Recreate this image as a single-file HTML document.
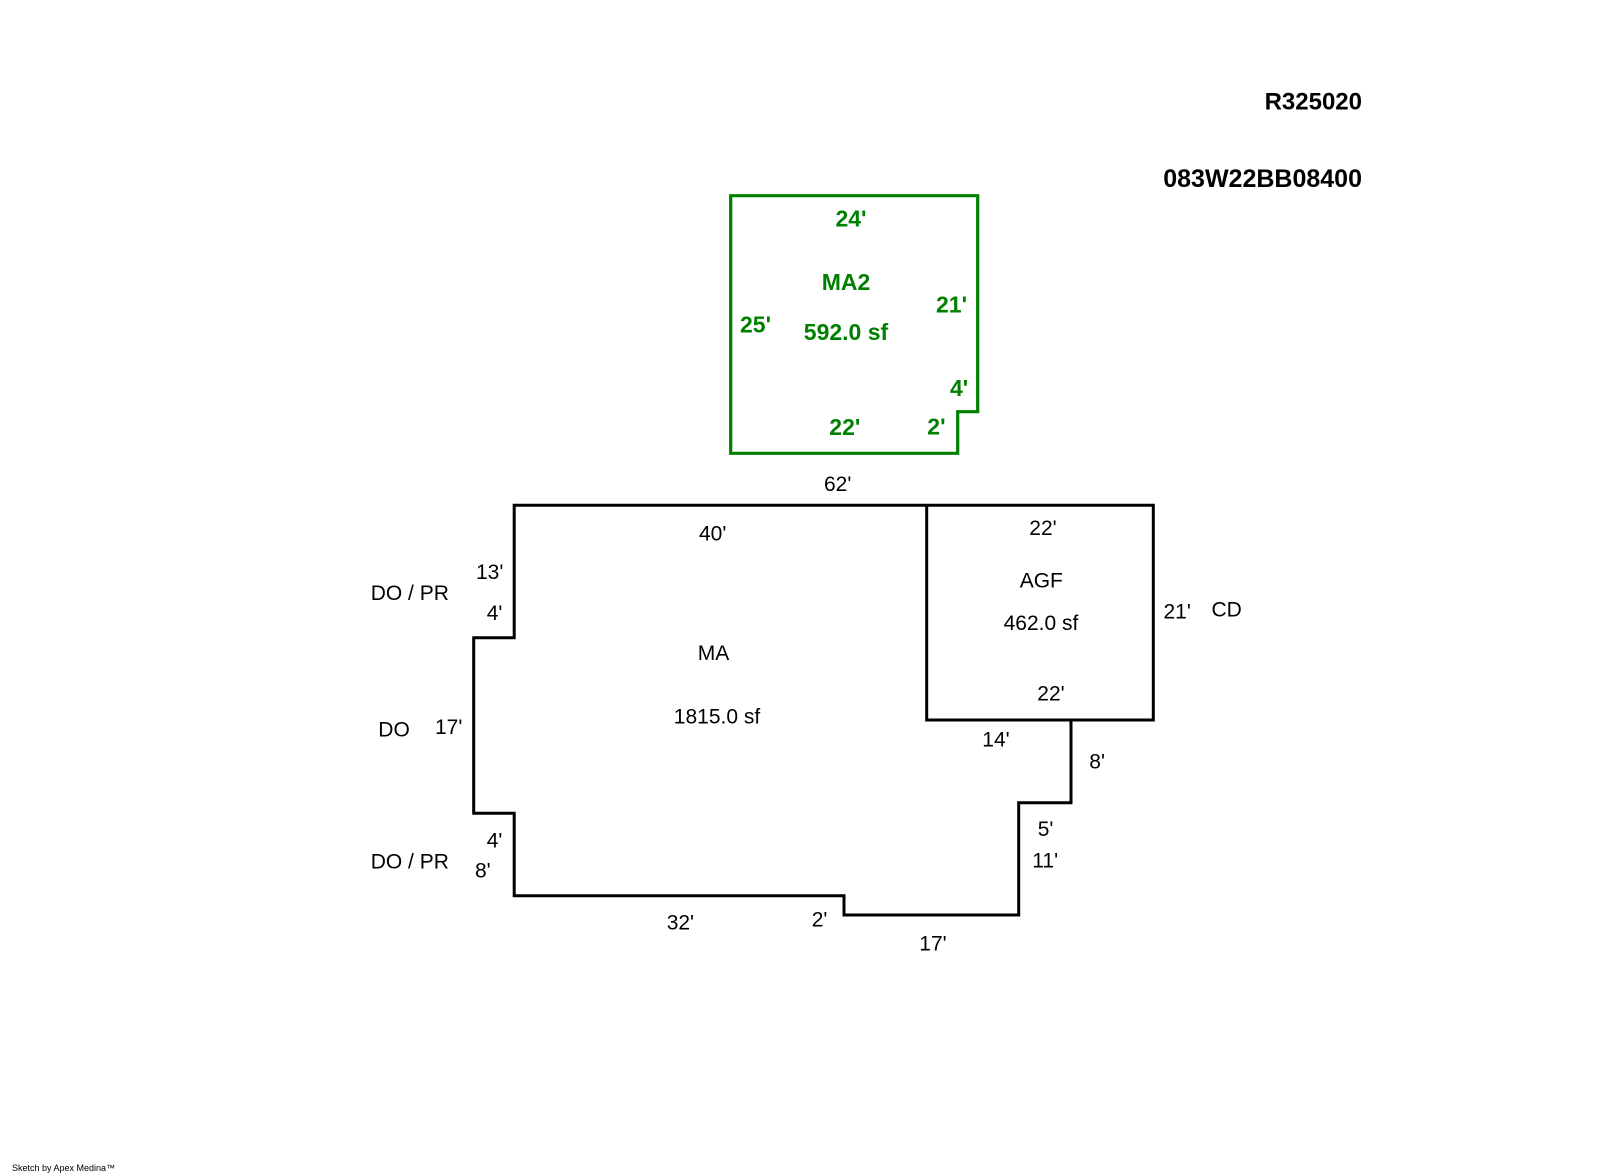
<!DOCTYPE html>
<html>
<head>
<meta charset="utf-8">
<style>
  html, body { margin: 0; padding: 0; background: #ffffff; }
  body { width: 1600px; height: 1174px; overflow: hidden; }
  svg { display: block; }
  .k { font-family: "Liberation Sans", Arial, sans-serif; font-size: 21px; fill: #000; }
  .g { font-family: "Liberation Sans", Arial, sans-serif; font-size: 23px; font-weight: bold; fill: #008000; }
  .h { font-family: "Liberation Sans", Arial, sans-serif; font-size: 25px; font-weight: bold; fill: #000; }
</style>
</head>
<body>
<svg width="1600" height="1174" viewBox="0 0 1600 1174" xmlns="http://www.w3.org/2000/svg">
  <rect x="0" y="0" width="1600" height="1174" fill="#ffffff"/>

  <!-- Header -->
  <text class="h" x="1362" y="109.5" text-anchor="end" style="font-size:24px">R325020</text>
  <text class="h" x="1362" y="187" text-anchor="end">083W22BB08400</text>

  <!-- Green MA2 outline -->
  <path d="M 730.7 195.7 H 977.7 V 411.7 H 957.7 V 453.3 H 730.7 Z" fill="none" stroke="#008000" stroke-width="3.2" stroke-linejoin="miter"/>

  <text class="g" x="851" y="226.7" text-anchor="middle">24'</text>
  <text class="g" x="846" y="290" text-anchor="middle">MA2</text>
  <text class="g" x="936" y="312.3">21'</text>
  <text class="g" x="740" y="332.7">25'</text>
  <text class="g" x="846" y="340" text-anchor="middle">592.0 sf</text>
  <text class="g" x="950" y="396">4'</text>
  <text class="g" x="829.3" y="435">22'</text>
  <text class="g" x="927.3" y="434.3">2'</text>

  <!-- Black MA / AGF outline -->
  <path d="M 514.2 505.2 H 1153.3 V 720 H 1071 V 802.7 H 1018.7 V 915 H 844 V 895.7 H 514.2 V 813.3 H 473.7 V 637.7 H 514.2 Z" fill="none" stroke="#000" stroke-width="3" stroke-linejoin="miter"/>
  <path d="M 926.7 505.2 V 720 H 1071" fill="none" stroke="#000" stroke-width="3"/>

  <!-- Black labels -->
  <text class="k" x="824" y="491">62'</text>
  <text class="k" x="699" y="540.7">40'</text>
  <text class="k" x="713.5" y="660" text-anchor="middle">MA</text>
  <text class="k" x="717" y="723.3" text-anchor="middle">1815.0 sf</text>

  <text class="k" x="1029.3" y="535">22'</text>
  <text class="k" x="1041.3" y="587.3" text-anchor="middle">AGF</text>
  <text class="k" x="1041" y="630" text-anchor="middle">462.0 sf</text>
  <text class="k" x="1163.5" y="618.5">21'</text>
  <text class="k" x="1211.5" y="616.5">CD</text>
  <text class="k" x="1037.3" y="700.7">22'</text>
  <text class="k" x="982.3" y="746.7">14'</text>
  <text class="k" x="1089.3" y="768.3">8'</text>
  <text class="k" x="1037.7" y="836">5'</text>
  <text class="k" x="1032.3" y="867.7">11'</text>

  <text class="k" x="476" y="579">13'</text>
  <text class="k" x="370.7" y="600">DO / PR</text>
  <text class="k" x="486.7" y="620">4'</text>
  <text class="k" x="378.3" y="736.7">DO</text>
  <text class="k" x="435" y="734">17'</text>
  <text class="k" x="486.7" y="847.7">4'</text>
  <text class="k" x="370.7" y="868.3">DO / PR</text>
  <text class="k" x="475" y="877.3">8'</text>

  <text class="k" x="666.7" y="929.3">32'</text>
  <text class="k" x="811.7" y="926.7">2'</text>
  <text class="k" x="919.3" y="950.7">17'</text>

  <!-- Footer -->
  <text x="12" y="1171" font-family="Liberation Sans, Arial, sans-serif" font-size="9" fill="#000">Sketch by Apex Medina™</text>
</svg>
</body>
</html>
